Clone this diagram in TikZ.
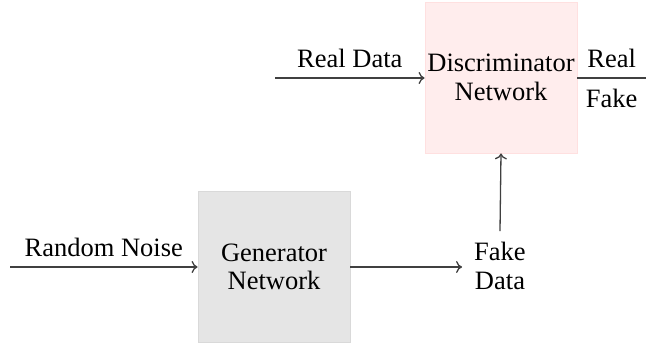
\documentclass[tikz,border=0pt]{standalone}
\usepackage{fontspec}
\usetikzlibrary{arrows.meta}
\setmainfont{Liberation Serif}
\begin{document}
\begin{tikzpicture}[x=1pt,y=-1pt,
  every node/.style={font=\fontsize{26.5}{28.5}\selectfont},
  netbox/.style={draw, line width=0.8pt, minimum width=152pt, minimum height=151pt, align=center, inner sep=0pt},
  conn/.style={draw=black!75, line width=1.3pt},
  tip/.style={-{To[length=6pt,width=12pt]}},
  lbl/.style={inner sep=10pt}
  ]
\useasboundingbox (0,0) rectangle (646,345);
\node[netbox, fill=black!10, draw=black!15] (gen) at (274,267) {Generator\\Network};
\node[netbox, fill=red!7, draw=red!12] (disc) at (501,77.5) {Discriminator\\Network};
\node[align=center, inner xsep=12pt, inner ysep=11pt] (fake) at (500,266) {Fake\\Data};
\coordinate (rn) at (10,267);
\coordinate (rd) at (275,78);
\coordinate (out) at (646,78);
\draw[conn,tip] (rn) -- node[lbl, above]{Random Noise} (gen.west);
\draw[conn,tip] (gen.east) -- (fake.west |- gen.east);
\draw[conn,tip] (fake.north) -- (disc.south);
\draw[conn,tip] (rd) -- node[lbl, above]{Real Data} (disc.west |- rd);
\draw[conn] (disc.east |- out) -- node[lbl, above]{Real} node[lbl, below]{Fake} (out);
\end{tikzpicture}
\end{document}
